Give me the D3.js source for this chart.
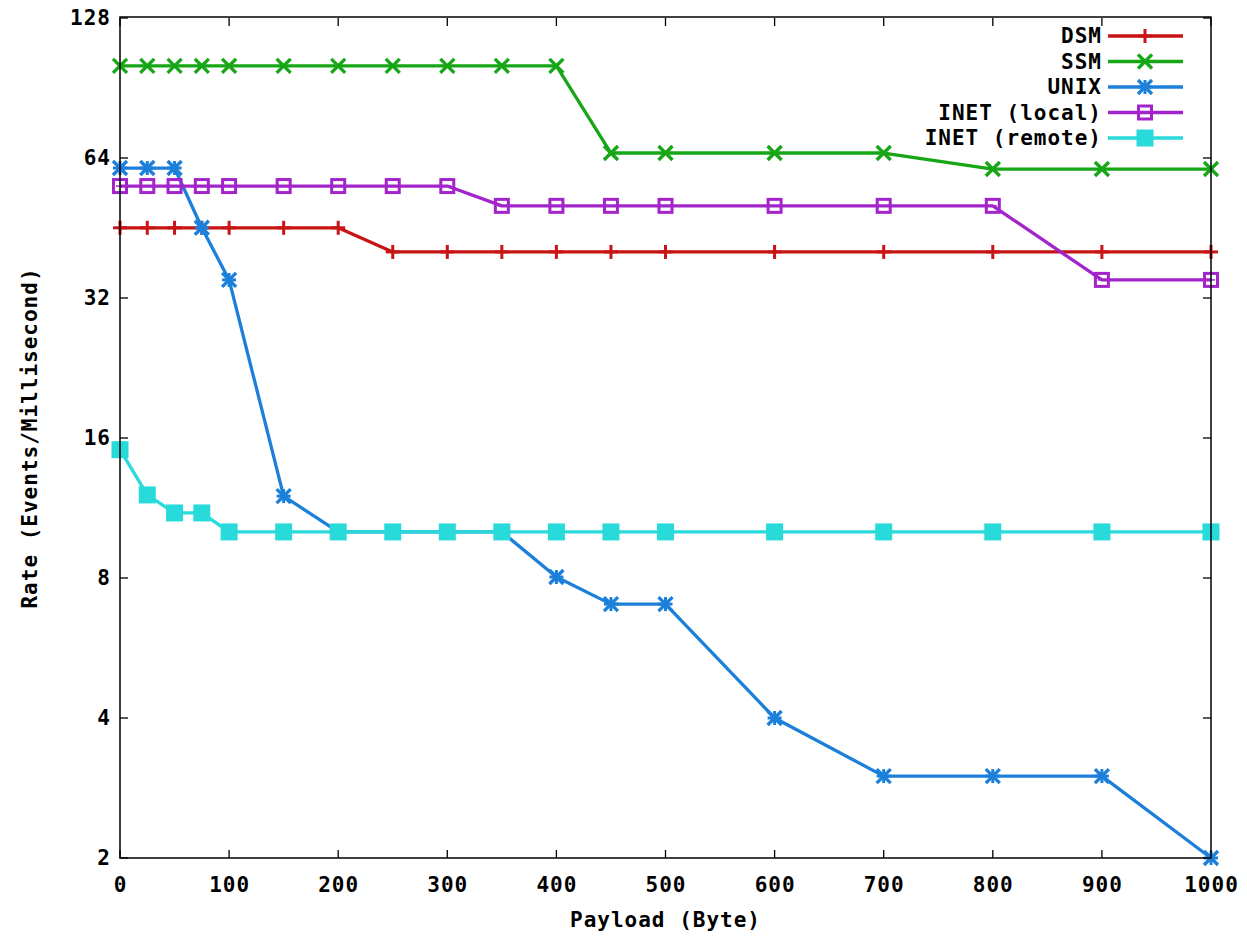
<!DOCTYPE html>
<html>
<head>
<meta charset="utf-8">
<script src="https://cdn.jsdelivr.net/npm/d3@7"></script>
<style>
  html, body { margin: 0; padding: 0; background: #fff; }
  svg { display: block; }
  text { font-family: "DejaVu Sans Mono", "Liberation Mono", monospace; font-weight: bold; font-size: 21px; letter-spacing: 1px; fill: #000; }
</style>
</head>
<body>
<svg id="chart" width="1247" height="938"></svg>
<script>
const payload = [0, 25, 50, 75, 100, 150, 200, 250, 300, 350, 400, 450, 500, 600, 700, 800, 900, 1000];
const dsm        = [45.3, 45.3, 45.3, 45.3, 45.3, 45.3, 45.3, 40.2, 40.2, 40.2, 40.2, 40.2, 40.2, 40.2, 40.2, 40.2, 40.2, 40.2];
const ssm        = [101, 101, 101, 101, 101, 101, 101, 101, 101, 101, 101, 65.6, 65.6, 65.6, 65.6, 60.6, 60.6, 60.6];
const unix       = [60.9, 60.9, 60.9, 45.3, 35, 12, 10.05, 10.05, 10.05, 10.05, 8.04, 7.03, 7.03, 4, 3, 3, 3, 2];
const inetLocal  = [55.7, 55.7, 55.7, 55.7, 55.7, 55.7, 55.7, 55.7, 55.7, 50.5, 50.5, 50.5, 50.5, 50.5, 50.5, 50.5, 35, 35];
const inetRemote = [15.1, 12.07, 11.04, 11.04, 10.05, 10.05, 10.05, 10.05, 10.05, 10.05, 10.05, 10.05, 10.05, 10.05, 10.05, 10.05, 10.05, 10.05];
const seriesNames = ["DSM", "SSM", "UNIX", "INET (local)", "INET (remote)"];
const seriesColors = ["#c81414", "#16a616", "#1c80da", "#a224ca", "#28dada"];
const seriesMarkers = ["plus", "cross", "star", "openSquare", "filledSquare"];
const xTicks = [0, 100, 200, 300, 400, 500, 600, 700, 800, 900, 1000];
const yTicks = [2, 4, 8, 16, 32, 64, 128];
const xTitle = "Payload (Byte)";
const yTitle = "Rate (Events/Millisecond)";

const seriesValues = [dsm, ssm, unix, inetLocal, inetRemote];

const svg = d3.select("#chart");
const L = 120, R = 1211, T = 18, B = 858;
const x = d3.scaleLinear().domain([0, 1000]).range([L, R]);
const y = d3.scaleLog().base(2).domain([2, 128]).range([B, T]);

// ticks (inner, mirrored)
const tl = 8;
const tg = svg.append("g").attr("stroke", "#000").attr("stroke-width", 1.3);
xTicks.forEach(t => {
  tg.append("line").attr("x1", x(t)).attr("x2", x(t)).attr("y1", B).attr("y2", B - tl);
  tg.append("line").attr("x1", x(t)).attr("x2", x(t)).attr("y1", T).attr("y2", T + tl);
});
yTicks.forEach(t => {
  tg.append("line").attr("x1", L).attr("x2", L + tl).attr("y1", y(t)).attr("y2", y(t));
  tg.append("line").attr("x1", R).attr("x2", R - tl).attr("y1", y(t)).attr("y2", y(t));
});

// tick labels via d3 axes (lines hidden)
const xAxis = svg.append("g").attr("transform", `translate(0,${B})`)
  .call(d3.axisBottom(x).tickValues(xTicks).tickSize(0).tickPadding(20).tickFormat(d3.format("d")));
xAxis.select(".domain").remove();
xAxis.selectAll("text").attr("font-family", null).attr("font-size", null).attr("dy", "0.71em").attr("y", 19);

const yAxis = svg.append("g").attr("transform", `translate(${L},0)`)
  .call(d3.axisLeft(y).tickValues(yTicks).tickSize(0).tickPadding(10).tickFormat(d3.format("d")));
yAxis.select(".domain").remove();
yAxis.selectAll("text").attr("font-family", null).attr("font-size", null).attr("x", -9);

// axis titles
svg.append("text").attr("x", (L + R) / 2).attr("y", 927).attr("text-anchor", "middle").text(xTitle);
svg.append("text").attr("transform", `translate(37,${(T + B) / 2}) rotate(-90)`).attr("text-anchor", "middle").text(yTitle);

// marker drawing
function drawMarker(g, type, cx, cy, color) {
  const s = 7;
  if (type === "plus" || type === "star") {
    g.append("line").attr("x1", cx - s).attr("x2", cx + s).attr("y1", cy).attr("y2", cy).attr("stroke", color).attr("stroke-width", 3);
    g.append("line").attr("x1", cx).attr("x2", cx).attr("y1", cy - s).attr("y2", cy + s).attr("stroke", color).attr("stroke-width", 3);
  }
  if (type === "cross" || type === "star") {
    g.append("line").attr("x1", cx - s).attr("x2", cx + s).attr("y1", cy - s).attr("y2", cy + s).attr("stroke", color).attr("stroke-width", 3.4);
    g.append("line").attr("x1", cx - s).attr("x2", cx + s).attr("y1", cy + s).attr("y2", cy - s).attr("stroke", color).attr("stroke-width", 3.4);
  }
  if (type === "openSquare") {
    g.append("rect").attr("x", cx - 6.5).attr("y", cy - 6.5).attr("width", 13).attr("height", 13).attr("fill", "none").attr("stroke", color).attr("stroke-width", 3);
    g.append("line").attr("x1", cx - 4).attr("x2", cx + 4).attr("y1", cy).attr("y2", cy).attr("stroke", color).attr("stroke-width", 1.5);
  }
  if (type === "filledSquare") {
    g.append("rect").attr("x", cx - 8.5).attr("y", cy - 8.5).attr("width", 17).attr("height", 17).attr("fill", color);
  }
}

const line = d3.line().x(d => x(d[0])).y(d => y(d[1]));
seriesValues.forEach((vals, i) => {
  const pts = payload.map((p, j) => [p, vals[j]]);
  const g = svg.append("g");
  g.append("path").datum(pts).attr("d", line).attr("fill", "none")
    .attr("stroke", seriesColors[i]).attr("stroke-width", 3.3).attr("stroke-linejoin", "round");
  pts.forEach(p => drawMarker(g, seriesMarkers[i], x(p[0]), y(p[1]), seriesColors[i]));
});

// legend
const lg = svg.append("g");
seriesNames.forEach((n, i) => {
  const ly = 36 + i * 25.5;
  lg.append("text").attr("x", 1102).attr("y", ly).attr("dy", "0.35em").attr("text-anchor", "end").text(n);
  lg.append("line").attr("x1", 1108).attr("x2", 1183).attr("y1", ly).attr("y2", ly).attr("stroke", seriesColors[i]).attr("stroke-width", 3.3);
  drawMarker(lg, seriesMarkers[i], 1145, ly, seriesColors[i]);
});

// frame
svg.append("rect").attr("x", L).attr("y", T - 1).attr("width", R - L).attr("height", B - T + 1)
  .attr("fill", "none").attr("stroke", "#000").attr("stroke-width", 1.5);
</script>
</body>
</html>
